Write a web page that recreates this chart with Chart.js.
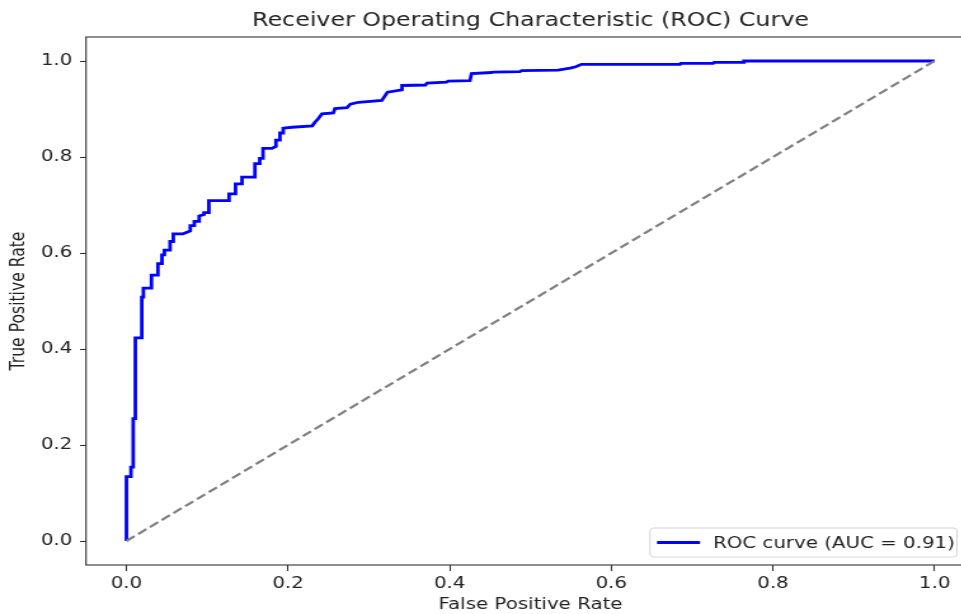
<!DOCTYPE html>
<html>
<head>
<meta charset="utf-8">
<script src="https://cdn.jsdelivr.net/npm/chart.js@4.4.0/dist/chart.umd.min.js"></script>
<style>
html, body { margin: 0; padding: 0; background: #fff; overflow: hidden; width: 961px; height: 614px; }
#wrap { position: absolute; left: 0; top: 0; width: 790px; height: 614px; transform-origin: 0 0; }
canvas { display: block; }
</style>
</head>
<body>
<div id="wrap"><canvas id="roc" width="790" height="614" style="width:790px;height:614px"></canvas></div>
<script>
// ROC points (corners of the step curve)
const fpr = [0, 0, 0.0056, 0.0056, 0.0084, 0.0084, 0.011, 0.011, 0.019, 0.019, 0.021, 0.021,
  0.031, 0.031, 0.039, 0.039, 0.044, 0.044, 0.047, 0.047, 0.054, 0.054, 0.058, 0.058,
  0.070, 0.079, 0.079, 0.084, 0.084, 0.090, 0.090, 0.096, 0.096, 0.102, 0.102, 0.127,
  0.127, 0.135, 0.135, 0.143, 0.143, 0.159, 0.159, 0.165, 0.165, 0.169, 0.169, 0.180,
  0.185, 0.185, 0.190, 0.190, 0.194, 0.194, 0.205, 0.230, 0.233, 0.237, 0.242, 0.256,
  0.258, 0.273, 0.277, 0.287, 0.316, 0.323, 0.341, 0.341, 0.370, 0.372, 0.396, 0.398,
  0.425, 0.427, 0.452, 0.454, 0.487, 0.489, 0.534, 0.549, 0.556, 0.563, 0.685, 0.686,
  0.726, 0.727, 0.763, 0.764, 1.0];
const tpr = [0, 0.134, 0.134, 0.154, 0.154, 0.255, 0.255, 0.423, 0.423, 0.508, 0.508, 0.527,
  0.527, 0.554, 0.554, 0.578, 0.578, 0.596, 0.596, 0.606, 0.606, 0.624, 0.624, 0.640,
  0.640, 0.646, 0.657, 0.657, 0.666, 0.666, 0.677, 0.680, 0.684, 0.684, 0.709, 0.709,
  0.723, 0.723, 0.744, 0.744, 0.758, 0.758, 0.786, 0.786, 0.797, 0.797, 0.818, 0.818,
  0.822, 0.835, 0.835, 0.850, 0.850, 0.860, 0.862, 0.865, 0.872, 0.879, 0.890, 0.892,
  0.901, 0.903, 0.910, 0.914, 0.918, 0.935, 0.940, 0.949, 0.950, 0.954, 0.956, 0.958,
  0.959, 0.974, 0.976, 0.977, 0.978, 0.980, 0.981, 0.985, 0.988, 0.993, 0.993, 0.995,
  0.995, 0.997, 0.997, 1.0, 1.0];
const diagX = [0, 1];
const diagY = [0, 1];
const xTicks = [0, 0.2, 0.4, 0.6, 0.8, 1.0];
const yTicks = [0, 0.2, 0.4, 0.6, 0.8, 1.0];
const aucValue = 0.91;

// the reference picture is stretched sideways, so the canvas is too
const K = 1.27;
const W = 790, H = 614;
document.getElementById('wrap').style.transform = 'scaleX(' + K + ')';

const FONT = "'DejaVu Sans', sans-serif";
const TXT = '#222';

function toPts(xs, ys) {
  return xs.map((x, i) => ({ x: x, y: ys[i] }));
}

const framePlugin = {
  id: 'frame',
  afterDraw(chart) {
    const c = chart.ctx, a = chart.chartArea;
    c.save();
    c.strokeStyle = '#333';
    c.lineWidth = 1.1;
    c.strokeRect(a.left, a.top, a.right - a.left, a.bottom - a.top);
    // legend box (lower right)
    const bx = 650 / K, by = 528, bw = 307 / K, bh = 29;
    c.beginPath();
    c.roundRect(bx, by, bw, bh, 3);
    c.fillStyle = 'rgba(255,255,255,0.85)';
    c.fill();
    c.strokeStyle = '#d4d4d4';
    c.lineWidth = 1;
    c.stroke();
    c.beginPath();
    c.moveTo(657 / K, by + bh / 2);
    c.lineTo(700 / K, by + bh / 2);
    c.strokeStyle = '#0000ff';
    c.lineWidth = 2.8;
    c.stroke();
    c.fillStyle = TXT;
    c.font = '15.6px ' + FONT;
    c.textBaseline = 'middle';
    c.textAlign = 'left';
    c.fillText('ROC curve (AUC = ' + aucValue.toFixed(2) + ')', 713 / K, by + bh / 2 + 1);
    c.restore();
  }
};

new Chart(document.getElementById('roc'), {
  type: 'line',
  data: {
    datasets: [
      {
        label: 'diagonal',
        data: toPts(diagX, diagY),
        borderColor: '#808080',
        borderWidth: 2.2,
        borderDash: [8, 3.6],
        pointRadius: 0,
        fill: false
      },
      {
        label: 'ROC curve (AUC = ' + aucValue.toFixed(2) + ')',
        data: toPts(fpr, tpr),
        borderColor: '#0000ff',
        borderWidth: 2.8,
        pointRadius: 0,
        tension: 0,
        fill: false
      }
    ]
  },
  options: {
    responsive: false,
    animation: false,
    devicePixelRatio: 1,
    layout: { autoPadding: false, padding: { left: 0, top: 0, bottom: 0, right: W - 975 / K } },
    plugins: {
      legend: { display: false },
      tooltip: { enabled: false },
      title: {
        display: true,
        fullSize: false,
        text: 'Receiver Operating Characteristic (ROC) Curve',
        color: TXT,
        font: { family: FONT, size: 18.7, weight: 'normal', lineHeight: 1.2 },
        padding: { top: 10, bottom: 37 - 10 - 18.7 * 1.2 }
      }
    },
    scales: {
      x: {
        type: 'linear',
        min: -0.05,
        max: 1.05,
        afterBuildTicks: s => { s.ticks = xTicks.map(v => ({ value: v })); },
        afterFit: s => { s.height = H - 565; s.paddingLeft = 0; s.paddingRight = 0; },
        ticks: { color: TXT, padding: 4, maxRotation: 0, font: { family: FONT, size: 15.6 }, callback: v => v.toFixed(1) },
        grid: { display: true, drawOnChartArea: false, drawTicks: true, tickLength: 6, color: '#333', tickWidth: 1.1 },
        border: { display: false },
        title: { display: true, text: 'False Positive Rate', color: TXT, font: { family: FONT, size: 15.6, lineHeight: 1.2 }, padding: { top: 0, bottom: 0 } }
      },
      y: {
        type: 'linear',
        min: -0.05,
        max: 1.05,
        afterBuildTicks: s => { s.ticks = yTicks.map(v => ({ value: v })); },
        afterFit: s => { s.width = 86 / K; s.paddingTop = 0; s.paddingBottom = 0; },
        ticks: { color: TXT, padding: 6, font: { family: FONT, size: 15.6 }, callback: v => v.toFixed(1) },
        grid: { display: true, drawOnChartArea: false, drawTicks: true, tickLength: 6 / K, color: '#333', tickWidth: 1.1 },
        border: { display: false },
        title: { display: true, text: 'True Positive Rate', color: TXT, font: { family: FONT, size: 15.6, lineHeight: 1.2 }, padding: { top: 6, bottom: 0 } }
      }
    }
  },
  plugins: [framePlugin]
});
</script>
</body>
</html>
